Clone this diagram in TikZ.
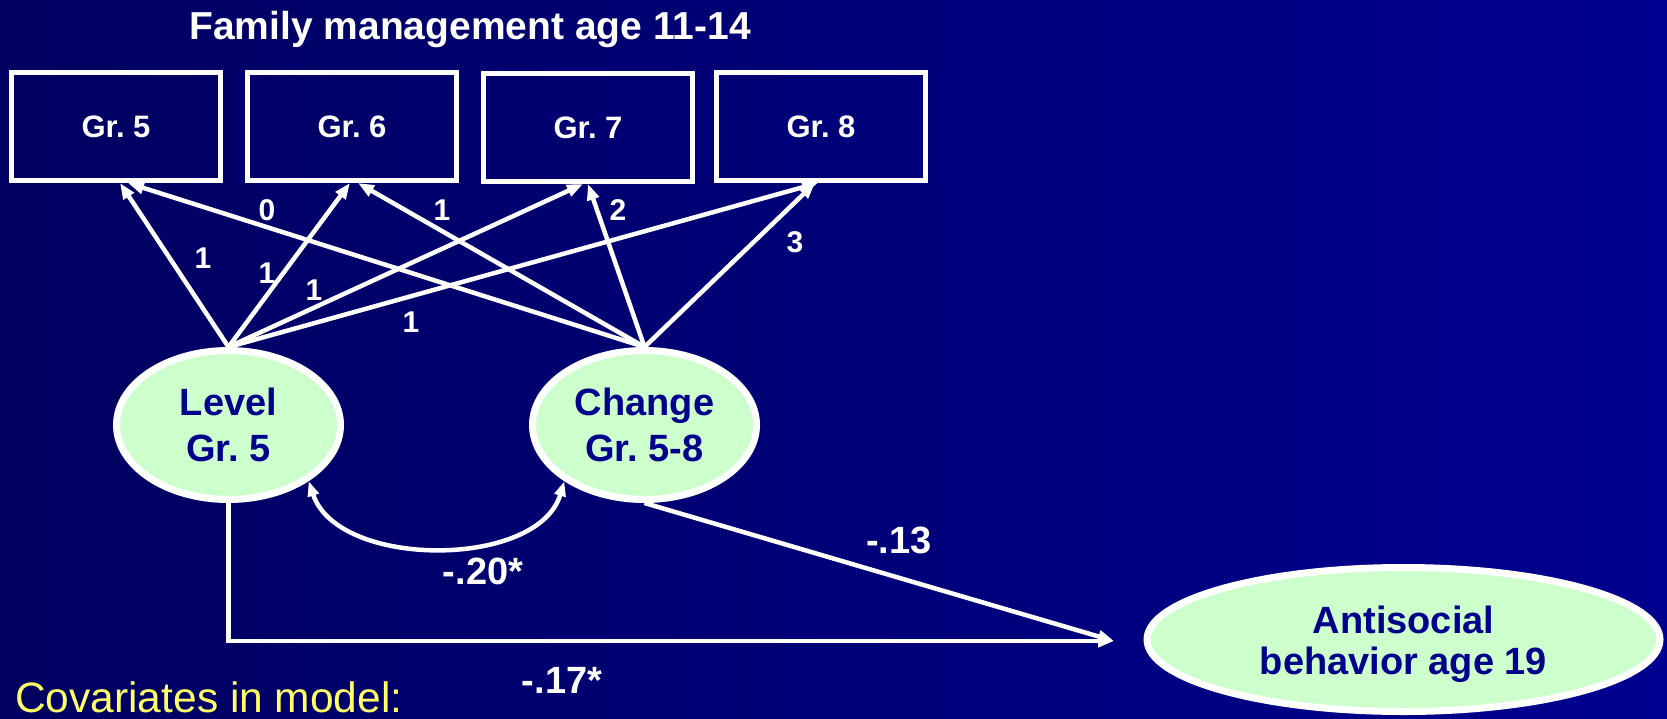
\documentclass[tikz,border=0pt]{standalone}
\usepackage{fontspec}
\setmainfont{Liberation Sans}
\usetikzlibrary{shapes.geometric,arrows.meta,calc}
\definecolor{bgleft}{RGB}{0,0,96}
\definecolor{bgright}{RGB}{0,0,144}
\definecolor{lvgreen}{RGB}{204,255,204}
\definecolor{lvtext}{RGB}{0,0,140}
\definecolor{covyellow}{RGB}{255,255,102}
\tikzset{
  gbox/.style={draw=white, line width=5pt, minimum width=209pt, minimum height=108pt, inner sep=0pt,
    text=white, font=\bfseries\fontsize{31}{37}\selectfont},
  latent/.style={ellipse, draw=white, fill=lvgreen, line width=7pt, inner sep=0pt, align=center,
    text=lvtext, font=\bfseries\fontsize{38}{46}\selectfont},
  coef/.style={text=white, font=\bfseries\fontsize{30}{36}\selectfont, inner sep=0pt},
  bigcoef/.style={text=white, font=\bfseries\fontsize{38}{46}\selectfont, inner sep=0pt},
  path/.style={draw=white, line width=4.5pt, -{Triangle[length=16pt,width=12pt]}},
  dpath/.style={draw=white, line width=4.5pt, {Triangle[length=15pt,width=11pt]}-{Triangle[length=15pt,width=11pt]}},
}
\begin{document}
\frenchspacing
\begin{tikzpicture}[x=1pt,y=-1pt]
\useasboundingbox (0,0) rectangle (1667,718);
\shade[left color=bgleft, right color=bgright] (0,0) rectangle (1667,718);

\node[text=white, font=\bfseries\fontsize{39}{46}\selectfont, anchor=base] (title) at (470,39) {Family management age 11-14};

\node[gbox] (g5) at (116,126.5) {Gr. 5};
\node[gbox] (g6) at (352,126.5) {Gr. 6};
\node[gbox] (g7) at (588,127.5) {Gr. 7};
\node[gbox] (g8) at (821,126.5) {Gr. 8};

\node[latent, minimum width=224pt, minimum height=149pt] (lvl) at (228.5,425) {Level\\Gr. 5};
\node[latent, minimum width=224pt, minimum height=149pt] (chg) at (644.5,425) {Change\\Gr. 5-8};
\node[latent, minimum width=513pt, minimum height=144pt] (anti) at (1403.5,639.5) {\rule{0pt}{38pt}Antisocial\\[-5pt]behavior age 19};

\coordinate (tip) at (1114,641);

% loadings
\draw[path] (lvl.north) -- ([xshift=4pt]g5.south);
\draw[path] (lvl.north) -- ([xshift=-2pt]g6.south);
\draw[path] (lvl.north) -- ([xshift=-5pt]g7.south);
\draw[path] (lvl.north) -- ([xshift=-3pt]g8.south);
\draw[path] (chg.north) -- ([xshift=12pt]g5.south);
\draw[path] (chg.north) -- ([xshift=6pt]g6.south);
\draw[path] (chg.north) -- ([xshift=0pt]g7.south);
\draw[path] (chg.north) -- ([xshift=-6pt]g8.south);

\node[coef] (c0) at (267,210) {0};
\node[coef] (c1a) at (442,210) {1};
\node[coef] (c2) at (618,210) {2};
\node[coef] (c3) at (795,242) {3};
\node[coef] (l1) at (203,258) {1};
\node[coef] (l2) at (267,273) {1};
\node[coef] (l3) at (314,290) {1};
\node[coef] (l4) at (411,322) {1};

% covariance
\draw[dpath] (lvl.-35) .. controls (338,569) and (538,569) .. (chg.-145);
\node[bigcoef] (r) at (483,571) {-.20*};

% regressions
\draw[path] (chg.south) -- (tip);
\draw[path] (lvl.south) -- (lvl.south |- tip) -- (tip);
\node[bigcoef] (b1) at (899,540) {-.13};
\node[bigcoef] (b2) at (562,680) {-.17*};

\node[text=covyellow, font=\fontsize{42.5}{50}\selectfont, anchor=base west, inner sep=0pt] (cov) at (15,712) {Covariates in model:};
\end{tikzpicture}
\end{document}
